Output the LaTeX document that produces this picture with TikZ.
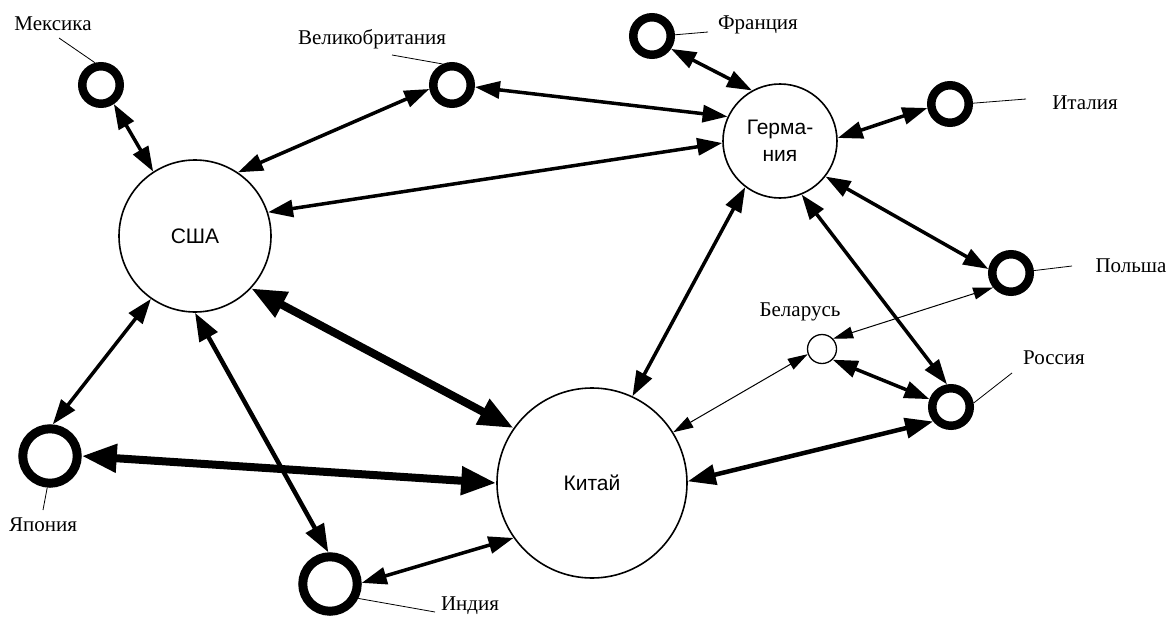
\documentclass[tikz,border=0pt]{standalone}
\usepackage{fontspec}
\setmainfont{Liberation Serif}
\setsansfont{Liberation Sans}
\usetikzlibrary{arrows.meta}
\begin{document}
\begin{tikzpicture}[x=1pt,y=-1pt,
  big/.style={circle,draw,line width=1.6pt,inner sep=0pt,font=\sffamily\fontsize{21}{27}\selectfont,align=center},
  ring/.style={circle,draw,line width=8.5pt,inner sep=0pt,minimum size=37.5pt},
  bigring/.style={ring,line width=9pt,minimum size=54.5pt},
  smallc/.style={circle,draw,line width=1.3pt,inner sep=0pt,minimum size=29pt},
  lab/.style={font=\fontsize{21}{25}\selectfont,inner sep=0pt},
  leader/.style={line width=0.8pt},
  med/.style={line width=3.5pt,{Triangle[length=25pt,width=17pt]}-{Triangle[length=25pt,width=17pt]}},
  medb/.style={line width=4.5pt,{Triangle[length=28pt,width=20pt]}-{Triangle[length=28pt,width=20pt]}},
  heavy/.style={line width=8pt,{Triangle[length=35pt,width=27pt]}-{Triangle[length=35pt,width=27pt]}},
  fine/.style={line width=1pt,{Triangle[length=20pt,width=12pt]}-{Triangle[length=20pt,width=12pt]}}
]
\useasboundingbox (0,0) rectangle (1168,621);
% main nodes
\node[big,minimum size=152pt] (usa) at (195,236) {США};
\node[big,minimum size=114pt] (ger) at (780,141) {Герма-\\ния};
\node[big,minimum size=190pt] (chn) at (592,483) {Китай};
% small ring nodes
\node[ring] (mex) at (101,85) {};
\node[ring] (gb) at (452,85) {};
\node[ring] (fra) at (652,36) {};
\node[ring] (ita) at (950,104) {};
\node[ring] (pol) at (1011,273) {};
\node[ring] (rus) at (951,407) {};
\node[smallc] (bel) at (822,349) {};
\node[bigring] (jap) at (50,456) {};
\node[bigring] (ind) at (330,584) {};
% labels
\node[lab] (lmex) at (53,24) {Мексика};
\node[lab] (lgb) at (372,39) {Великобритания};
\node[lab] (lfra) at (758,25) {Франция};
\node[lab] (lita) at (1085,103) {Италия};
\node[lab] (lpol) at (1131,266) {Польша};
\node[lab] (lbel) at (800,312) {Беларусь};
\node[lab] (lrus) at (1054,358) {Россия};
\node[lab] (ljap) at (43,525) {Япония};
\node[lab] (lind) at (470,606) {Индия};
% leader ends
\coordinate (cmex) at (59,38);
\coordinate (cgb) at (392,55);
\coordinate (cfra) at (708,32);
\coordinate (cita) at (1026,99);
\coordinate (cpol) at (1072,266);
\coordinate (crus) at (1012,373);
\coordinate (cjap) at (43,510);
\coordinate (cind) at (435,612);
\draw[leader] (mex.105) -- (cmex);
\draw[leader] (gb.114) -- (cgb);
\draw[leader] (fra.3) -- (cfra);
\draw[leader] (ita.2) -- (cita);
\draw[leader] (pol.6) -- (cpol);
\draw[leader] (rus.10) -- (crus);
\draw[leader] (jap.-95) -- (cjap);
\draw[leader] (ind.-27) -- (cind);
% connections
\draw[med] (mex.-56) -- (usa.123);
\draw[med] (gb.190) -- (usa.56);
\draw[med] (gb.-5) -- (ger.155);
\draw[med] (ger.182) -- (usa.18);
\draw[med] (fra.-34) -- (ger.119);
\draw[med] (ita.190) -- (ger.3);
\draw[med] (ger.-38) -- (pol.170);
\draw[med] (ger.-68) -- (rus.100);
\draw[med] (ger.-127) -- (chn.65);
\draw[fine] (bel.43) -- (pol.219);
\draw[fine] (bel.200) -- (chn.32);
\draw[med] (bel.-45) -- (rus.160);
\draw[medb] (rus.219) -- (chn.1);
\draw[heavy] (usa.-43) -- (chn.145);
\draw[heavy] (jap.0) -- (chn.180);
\draw[med] (usa.235) -- (jap.85);
\draw[medb] (usa.270) -- (ind.93);
\draw[med] (ind.2) -- (chn.215);
\end{tikzpicture}
\end{document}
